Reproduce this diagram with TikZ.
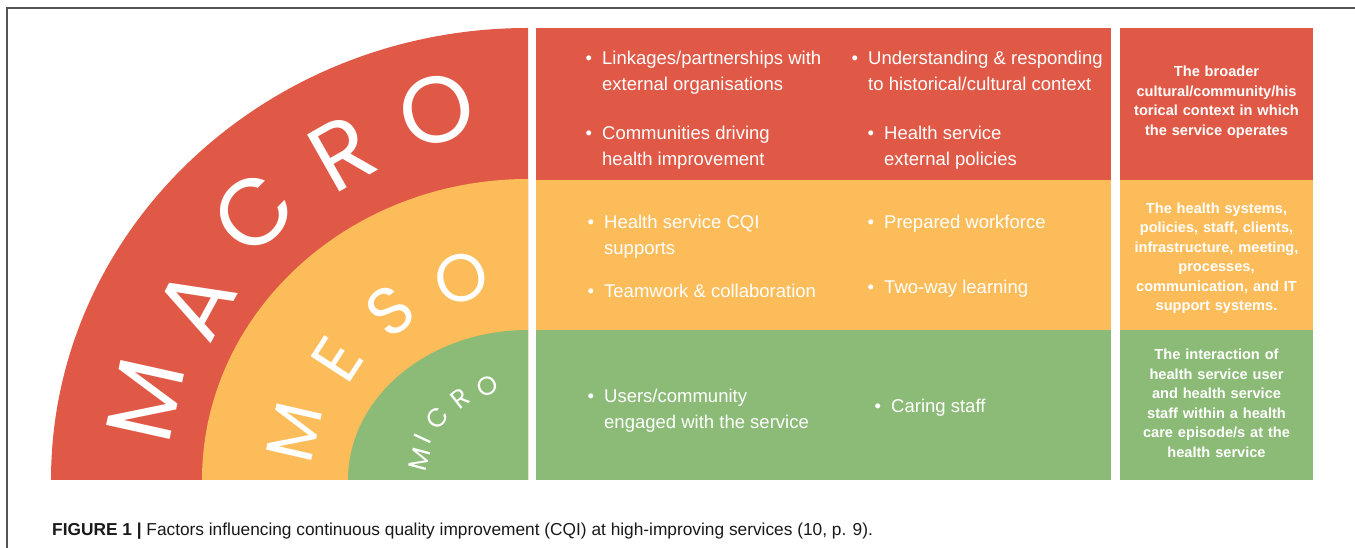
\documentclass[tikz,border=0pt]{standalone}
\usepackage{fontspec}
\setmainfont{Liberation Sans}
\newfontfamily\arcfont{Poppins}
\definecolor{macrored}{RGB}{224,88,70}
\definecolor{mesoorange}{RGB}{251,188,89}
\definecolor{microgreen}{RGB}{140,187,119}
\definecolor{framegray}{RGB}{85,85,85}
\tikzset{
  factor/.style={anchor=base west, align=left, text=white, inner sep=0pt,
    font=\fontsize{18.5}{26}\selectfont},
  levelnote/.style={text=white, align=center, text width=185pt, inner sep=0pt,
    font=\bfseries\fontsize{14.6}{19.5}\selectfont},
  bigletter/.style={text=white, inner sep=0pt, font=\arcfont\fontsize{94}{94}\selectfont},
  midletter/.style={text=white, inner sep=0pt, font=\arcfont\fontsize{67}{67}\selectfont},
  smallletter/.style={text=white, inner sep=0pt, font=\arcfont\fontsize{26}{26}\selectfont}
}
\newcommand{\bul}{\llap{\textbullet\hspace{10pt}}}
\begin{document}
\begin{tikzpicture}[x=1pt,y=1pt]
    \useasboundingbox (0,0) rectangle (1355,548);
    \draw[framegray, line width=1.2pt] (7,0) -- (7,540) -- (1355,540);
    % the three levels as quarter arcs
    \fill[macrored] (528,68) -- (51,68) arc[start angle=180, end angle=90, x radius=477, y radius=452] -- cycle;
    \fill[mesoorange] (528,68) -- (202,68) arc[start angle=180, end angle=90, x radius=326, y radius=301] -- cycle;
    \fill[microgreen] (528,68) -- (348,68) arc[start angle=180, end angle=90, x radius=180, y radius=150] -- cycle;
    % factor rows and level notes
    \fill[macrored] (536,368) rectangle (1111,520);
    \fill[mesoorange] (536,218) rectangle (1111,368);
    \fill[microgreen] (536,68) rectangle (1111,218);
    \fill[macrored] (1120,368) rectangle (1313,520);
    \fill[mesoorange] (1120,218) rectangle (1313,368);
    \fill[microgreen] (1120,68) rectangle (1313,218);
    % level names along the arcs
    \node[bigletter, rotate=77.5] (macroM) at (146,148) {M};
    \node[bigletter, rotate=61.5] (macroA) at (196,245) {A};
    \node[bigletter, rotate=45.4] (macroC) at (254,335) {C};
    \node[bigletter, rotate=29.5] (macroR) at (342,395) {R};
    \node[bigletter, rotate=13.7] (macroO) at (437,438) {O};
    \node[midletter, rotate=77] (mesoM) at (294,115.5) {M};
    \node[midletter, rotate=57] (mesoE) at (337,189) {E};
    \node[midletter, rotate=38.6] (mesoS) at (390,237) {S};
    \node[midletter, rotate=18] (mesoO) at (461,270) {O};
    \node[smallletter, rotate=75] (microM) at (420,89) {M};
    \node[smallletter, rotate=65] (microI) at (423,109.5) {I};
    \node[smallletter, rotate=53] (microC) at (437,130) {C};
    \node[smallletter, rotate=37.6] (microR) at (460,149) {R};
    \node[smallletter, rotate=22.8] (microO) at (487,162) {O};
    % macro factors
    \node[factor] (linkages) at (602,457.4) {\bul Linkages/partnerships with\\external organisations};
    \node[factor] (understanding) at (868,457.4) {\bul Understanding \& responding\\to historical/cultural context};
    \node[factor] (communities) at (602,382.4) {\bul Communities driving\\health improvement};
    \node[factor] (policies) at (884,382.4) {\bul Health service\\external policies};
    % meso factors
    \node[factor] (cqisupports) at (604,293.4) {\bul Health service CQI\\supports};
    \node[factor] (workforce) at (884,319.4) {\bul Prepared workforce};
    \node[factor] (teamwork) at (604,250.4) {\bul Teamwork \& collaboration};
    \node[factor] (twoway) at (884,254.4) {\bul Two-way learning};
    % micro factors
    \node[factor] (users) at (604,119.4) {\bul Users/community\\engaged with the service};
    \node[factor] (caring) at (891,135.4) {\bul Caring staff};
    % level descriptions
    \node[levelnote] (macronote) at (1216.5,446) {The broader\\cultural/community/his\\torical context in which\\the service operates};
    \node[levelnote] (mesonote) at (1216.5,290) {The health systems,\\policies, staff, clients,\\infrastructure, meeting,\\processes,\\communication, and IT\\support systems.};
    \node[levelnote] (micronote) at (1216.5,144.5) {The interaction of\\health service user\\and health service\\staff within a health\\care episode/s at the\\health service};
    \node[anchor=base west, inner sep=0pt, text=black!90, font=\fontsize{17.3}{21}\selectfont] (caption) at (52,12.5)
      {\textbf{FIGURE 1} \textbf{|} Factors influencing continuous quality improvement (CQI) at high-improving services (10, p. 9).};
\end{tikzpicture}
\end{document}
